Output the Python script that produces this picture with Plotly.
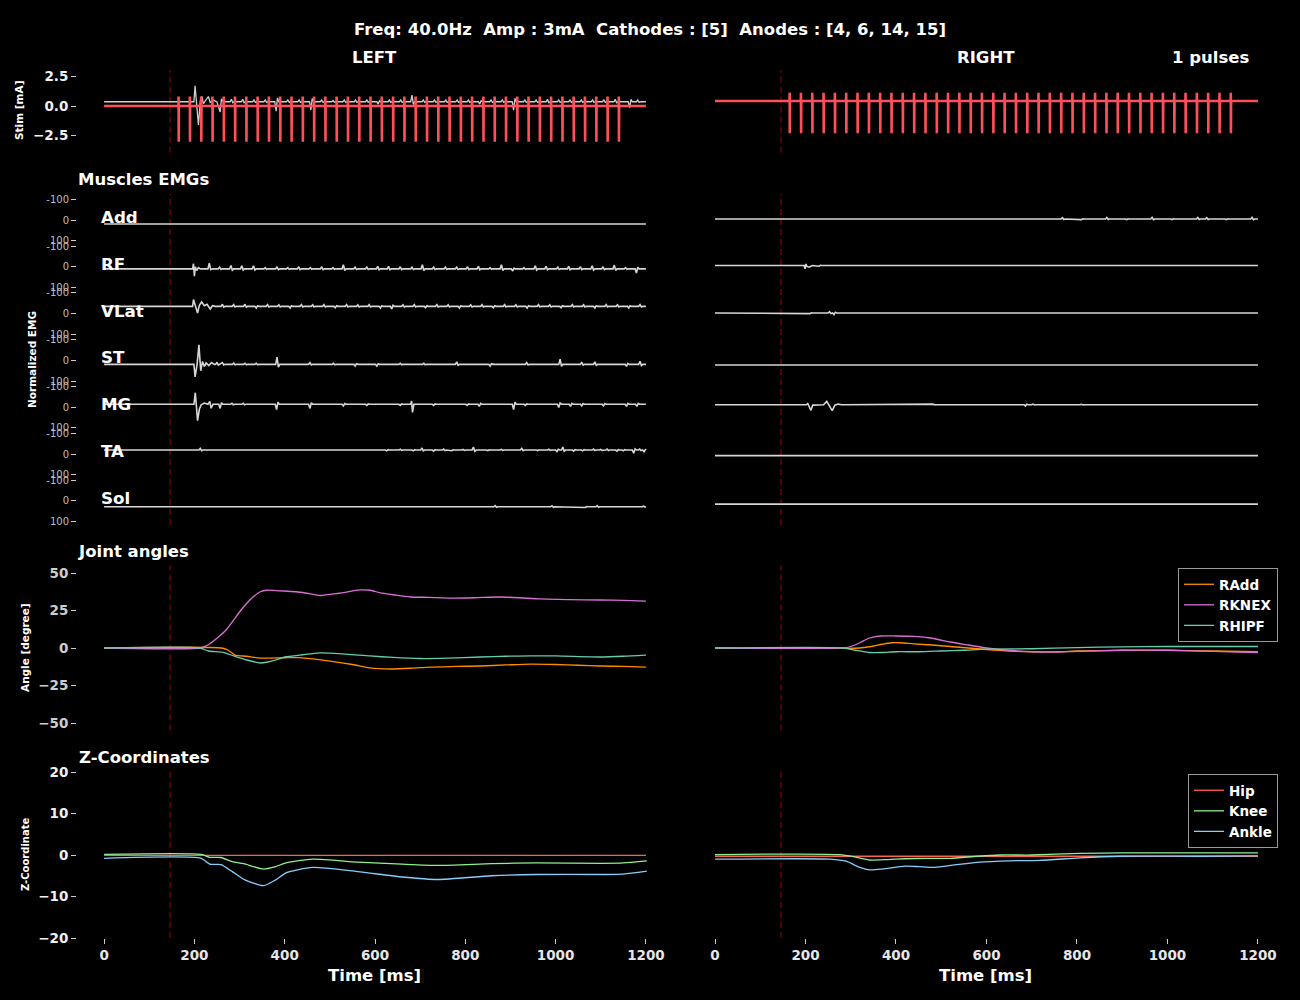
import plotly.graph_objects as go

FONT = "DejaVu Sans"
W, H = 1300, 1000

# ---------------- text ----------------
TITLE = "Freq: 40.0Hz \u00a0Amp : 3mA \u00a0Cathodes : [5] \u00a0Anodes : [4, 6, 14, 15]"
SIDE_TITLES = ["LEFT", "RIGHT"]
PULSE_COUNT_TEXT = "1 pulses"
MUSCLES = ["Add", "RF", "VLat", "ST", "MG", "TA", "Sol"]
TIME_TICKS = [0, 200, 400, 600, 800, 1000, 1200]
STIM_TICKS = [2.5, 0.0, -2.5]
STIM_TICKTEXT = ["2.5", "0.0", "\u22122.5"]
EMG_TICKS = [-100, 0, 100]
EMG_TICKTEXT = ["-100", "0", "100"]
ANG_TICKS = [50, 25, 0, -25, -50]
ANG_TICKTEXT = ["50", "25", "0", "\u221225", "\u221250"]
Z_TICKS = [20, 10, 0, -10, -20]
Z_TICKTEXT = ["20", "10", "0", "\u221210", "\u221220"]
ONSET_MS = 146

# ---------------- stimulation ----------------
PULSE_T = [165, 190, 215, 240, 265, 290, 315, 340, 365, 390, 415, 440, 465, 490,
           515, 540, 565, 590, 615, 640, 665, 690, 715, 740, 765, 790, 815, 840,
           865, 890, 915, 940, 965, 990, 1015, 1040, 1065, 1090, 1115, 1140]
STIM_L_LEVELS = [0.0, 0.8, -3.0]      # base, top, bottom
STIM_R_LEVELS = [0.42, 1.12, -2.3]
STIM_L_TRACE_BASE = 0.36
STIM_L_TRACE_KNOTS = [(199, 0.36), (201.5, 1.7), (205, 0.2), (209, -1.6), (213, 0.4), (216.5, 0.8),
                      (220, 0.2), (226, 0.5), (231, 0.8), (235, 0.3), (242, 0.5), (250, 0.35),
                      (257, -0.5), (260, 0.6), (264, 0.36)]
STIM_L_TRACE_SPIKES = [(282, 0.2), (307, 0.2), (332, 0.15), (357, 0.15), (381, -0.8), (407, 0.15),
                       (432, 0.15), (458, -0.7), (482, 0.15), (507, 0.1), (532, 0.15), (557, 0.15),
                       (582, 0.15), (607, -0.2), (632, 0.15), (657, 0.15), (682, 0.55), (707, 0.15),
                       (732, 0.15), (757, 0.15), (782, 0.15), (807, 0.15), (832, -0.2), (857, 0.15),
                       (882, 0.15), (907, -0.7), (932, 0.15), (957, 0.15), (982, 0.2), (1007, 0.15),
                       (1032, 0.15), (1057, 0.15), (1082, 0.15), (1107, 0.15), (1132, 0.2),
                       (1164, -0.5), (1182, 0.15)]

# ---------------- EMG (normalized units, axis reversed) ----------------
L_ADD_BASE, L_ADD_KNOTS, L_ADD_SPIKES = 19, [], []
L_RF_BASE = 10
L_RF_KNOTS = [(196, 10), (198, -15), (200, 45), (202, 0), (205, 18), (209, 4), (213, 10),
              (230, 10), (233, -18), (236, 14), (240, 10)]
L_RF_SPIKES = [(256, -8), (281, -16), (305, -15), (331, -15), (357, -6), (383, -10), (407, -6),
               (431, -10), (457, -6), (482, -10), (507, -6), (530, -20), (556, -8), (582, -8),
               (606, -12), (630, -12), (656, -10), (682, -8), (705, -20), (730, -8), (756, -8),
               (781, -8), (805, -10), (829, -12), (855, -6), (880, -20), (905, 10), (930, -6),
               (955, -15), (979, -12), (1005, -8), (1029, -12), (1055, -10), (1081, -15),
               (1105, -10), (1130, -18), (1155, -6), (1179, 20)]
L_VLAT_BASE = -35
L_VLAT_KNOTS = [(196, -35), (198, -68), (202, -40), (207, -3), (211, -40), (216, -56), (222, -38),
                (228, -45), (235, -22), (240, -38), (246, -35)]
L_VLAT_SPIKES = [(262, -10), (287, -8), (312, -10), (337, 8), (362, -8), (387, -7), (412, 8),
                 (437, -8), (462, -7), (487, -8), (512, 7), (537, -8), (562, -7), (587, -8),
                 (612, 8), (637, 12), (662, -7), (687, -8), (712, 7), (737, -8), (762, -7),
                 (787, 8), (812, -7), (837, -8), (862, 7), (887, -8), (912, -7), (937, 8),
                 (962, -8), (987, -7), (1012, 7), (1037, -8), (1062, -7), (1087, 8), (1112, -8),
                 (1137, -7), (1162, 8), (1187, -8)]
L_ST_BASE = 19
L_ST_KNOTS = [(199, 19), (201.5, 80), (206, 19), (210, -75), (214, 50), (218, 5), (222, 30),
              (226, 12), (232, 25), (238, 10), (244, 19)]
L_ST_SPIKES = [(250, -10), (262, -8), (287, -6), (312, -5), (337, -5), (383, -35), (456, -8),
               (508, -5), (556, 8), (604, 8), (656, -5), (708, -5), (781, -12), (855, 8),
               (936, -8), (1010, -25), (1058, -10), (1087, -12), (1157, 10), (1187, -15)]
L_MG_BASE = -14
L_MG_KNOTS = [(199, -14), (202, -70), (207, 65), (211, 10), (215, -12), (222, -20), (230, -14),
              (234, -28), (237, 5), (241, -14), (679, -14), (681, -30), (683, 25), (686, -14)]
L_MG_SPIKES = [(257, 20), (283, -5), (308, -5), (382, 25), (456, 20), (530, 8), (582, 5),
               (656, 5), (730, 5), (804, 5), (831, 10), (907, 25), (933, 5), (1007, 15),
               (1033, 10), (1058, 8), (1106, 8), (1157, 10), (1180, 10)]
L_TA_BASE = -19
L_TA_KNOTS = []
L_TA_SPIKES = [(213, -8), (626, 4), (656, -4), (685, 4), (704, -10), (730, 5), (752, -5),
               (770, 3), (795, -3), (818, -15), (850, 3), (880, -3), (925, -8), (960, 3),
               (985, -4), (1003, 8), (1016, -15), (1040, 5), (1060, 4), (1084, -5),
               (1100, -3), (1114, -5), (1136, 5), (1150, 4), (1173, 15), (1186, -5), (1196, 10)]
L_SOL_BASE = 29
L_SOL_KNOTS = []
L_SOL_SPIKES = [(866, -6), (992, -5), (1066, 3), (1092, -6), (1195, -3)]

R_ADD_BASE = -5
R_ADD_KNOTS = []
R_ADD_SPIKES = [(768, -6), (810, 3), (866, -7), (910, 3), (966, -8), (1010, 3),
                (1067, -7), (1087, -6), (1130, 3), (1187, -8)]
R_RF_BASE = -6
R_RF_KNOTS = [(197, -6), (199, 10), (201, -14), (203, -2), (208, 2), (215, -6)]
R_RF_SPIKES = [(230, 3)]
R_VLAT_BASE = -3
R_VLAT_KNOTS = []
R_VLAT_SPIKES = [(210, 3), (253, -6), (263, 8), (330, 2)]
R_ST_BASE, R_ST_KNOTS, R_ST_SPIKES = 22, [], []
R_MG_BASE = -12
R_MG_KNOTS = [(202, -12), (205, -18), (212, 15), (216, -10), (240, -12), (247, -28), (252, -10),
              (259, 17), (265, -10), (272, -15), (280, -12)]
R_MG_SPIKES = [(482, -3), (686, 6), (703, -3), (810, -2)]
R_TA_BASE, R_TA_KNOTS, R_TA_SPIKES = 8, [], []
R_SOL_BASE, R_SOL_KNOTS, R_SOL_SPIKES = 16, [], []

# ---------------- joint angles (degree) ----------------
L_RADD_T = [0, 260, 275, 290, 316, 346, 400, 434, 500, 550, 589, 634, 680, 722, 780, 833, 890,
            944, 1000, 1050, 1099, 1150, 1200]
L_RADD_V = [0, 0, -1.5, -4.7, -5.5, -6.7, -6.5, -6.4, -8.7, -11, -13.3, -14, -13.5, -12.7,
            -12.3, -12, -11.3, -10.7, -11, -11.5, -12, -12.3, -12.7]
L_RKNEX_T = [0, 212, 230, 250, 270, 287, 300, 316, 330, 346, 360, 380, 400, 440, 478, 520, 567,
             590, 612, 640, 678, 720, 767, 820, 877, 920, 966, 1030, 1099, 1150, 1200]
L_RKNEX_V = [0, 0, 2, 6.5, 12, 18.7, 24, 29.8, 34, 37.5, 38.5, 38.3, 38, 37, 35, 36.5, 38.7,
             38.5, 36.7, 35.5, 34, 33.8, 33.3, 33.5, 34, 33.5, 32.7, 32.3, 32, 31.8, 31.3]
L_RHIPF_T = [0, 212, 231, 264, 287, 316, 346, 360, 380, 400, 440, 478, 520, 589, 640, 700, 760,
             833, 890, 944, 1000, 1099, 1150, 1200]
L_RHIPF_V = [0, 0, -2, -2.9, -5.3, -8, -10, -9.5, -8, -6, -4.5, -3.3, -3.7, -5.3, -6.3, -7,
             -6.8, -6, -5.5, -5.3, -5.3, -6, -5.5, -4.7]
R_RADD_T = [0, 320, 345, 370, 390, 410, 440, 480, 520, 560, 600, 650, 700, 760, 800, 900, 1000,
            1100, 1200]
R_RADD_V = [0, 0, 1, 2.5, 3.5, 3.5, 2.7, 2, 1, 0, -1, -2, -2.5, -2.5, -2, -1.5, -1.5, -2, -2.5]
R_RKNEX_T = [0, 280, 300, 320, 340, 365, 400, 440, 480, 520, 560, 600, 650, 700, 740, 800, 900,
             1000, 1100, 1200]
R_RKNEX_V = [0, 0, 1, 3.5, 6.5, 8, 8, 7.7, 6.5, 4, 2, 0, -1.5, -2.5, -2.8, -2.3, -1.5, -1.5,
             -2.3, -3]
R_RHIPF_T = [0, 285, 310, 340, 370, 400, 450, 500, 550, 600, 700, 800, 900, 1000, 1100, 1200]
R_RHIPF_V = [0, 0, -1.5, -3, -3, -2.5, -2.5, -2, -1.5, -0.7, -0.5, 0.3, 0.8, 1, 1, 1]

# ---------------- Z coordinates ----------------
L_HIP_T, L_HIP_V = [0, 1200], [-0.1, -0.1]
L_KNEE_T = [0, 215, 234, 259, 284, 309, 353, 380, 403, 462, 561, 660, 739, 858, 957, 1105, 1150, 1202]
L_KNEE_V = [0.17, 0.17, -0.55, -0.6, -1.6, -2.1, -3.4, -2.8, -1.9, -1, -1.7, -2.2, -2.5, -2.1,
            -1.9, -2, -1.9, -1.4]
L_ANKLE_T = [0, 215, 234, 259, 284, 312, 353, 380, 403, 462, 561, 660, 739, 858, 957, 1105, 1150, 1202]
L_ANKLE_V = [-0.8, -0.8, -2.2, -2.3, -4, -6, -7.4, -6, -4.3, -3, -4, -5.3, -5.9, -5, -4.7, -4.7,
             -4.6, -3.9]
R_HIP_T, R_HIP_V = [0, 1200], [-0.3, -0.3]
R_KNEE_T = [0, 276, 310, 342, 380, 420, 470, 520, 580, 630, 700, 806, 900, 1000, 1200]
R_KNEE_V = [0.1, 0.1, -0.5, -1.2, -1.1, -0.9, -0.8, -0.8, -0.3, 0, 0, 0.4, 0.5, 0.5, 0.5]
R_ANKLE_T = [0, 254, 290, 320, 342, 370, 420, 450, 486, 530, 585, 652, 718, 806, 895, 1072, 1200]
R_ANKLE_V = [-1, -1, -1.5, -3, -3.6, -3.4, -2.7, -2.8, -3, -2.4, -1.7, -1.4, -1.3, -0.7, -0.3,
             -0.3, -0.2]

# ---------------- styles ----------------
BG = "black"
EMG_COLOR = "#d6d6d6"
STIM_COLOR = "#ff4f5a"
ONSET_COLOR = "rgba(139,0,0,0.85)"
ANGLE_COLORS = {"RAdd": "#ff8c00", "RKNEX": "#da70d6", "RHIPF": "#66cdaa"}
Z_COLORS = {"Hip": "#ff6347", "Knee": "#90ee90", "Ankle": "#87cefa"}


def spiky(base, knots, spikes):
    pts = [(0.0, base)] + list(knots)
    for t, a in spikes:
        pts += [(t - 3, base), (t, base + a), (t + 3, base - 0.4 * a), (t + 6, base)]
    pts = [p for p in pts if p[0] <= 1200]
    pts.sort(key=lambda p: p[0])
    if pts[-1][0] < 1200:
        pts.append((1200.0, base))
    return [p[0] for p in pts], [p[1] for p in pts]


def pulse_train(levels, times):
    base, top, bottom = levels
    xs, ys = [0.0], [base]
    for t in times:
        xs += [t - 0.3, t, t + 0.3, t + 0.6]
        ys += [base, top, bottom, base]
    xs.append(1200.0)
    ys.append(base)
    return xs, ys


# ---------------- layout geometry (pixels) ----------------
COL_X = [(77.0, 673.0), (687.85, 1285.1)]
X_RANGE = [-60, 1260]
ROWS = [("stim", 70.0, 152.7, [-3.93, 3.03])]
for i in range(7):
    c = 220.0 + 46.8 * i
    ROWS.append(("emg%d" % i, c - 23.4, c + 23.4, [113, -113]))
ROWS.append(("ang", 565.5, 730.5, [-55, 55]))
ROWS.append(("z", 772.0, 938.0, [-20, 20]))


def axid(row, col):
    return row * 2 + col + 1


def xname(n):
    return "x" if n == 1 else "x%d" % n


def yname(n):
    return "y" if n == 1 else "y%d" % n


fig = go.Figure()
layout = {}
for r, (name, top, bot, yr) in enumerate(ROWS):
    for c in range(2):
        n = axid(r, c)
        sfx = "" if n == 1 else str(n)
        bottom_row = name == "z"
        layout["xaxis" + sfx] = dict(
            domain=[COL_X[c][0] / W, COL_X[c][1] / W], range=X_RANGE, anchor=yname(n),
            showgrid=False, zeroline=False, showline=False, automargin=False,
            showticklabels=bottom_row, ticks="outside" if bottom_row else "",
            tickvals=TIME_TICKS, ticklen=5, tickwidth=1, tickcolor="#cccccc",
            tickfont=dict(family=FONT, size=13.5, color="#e6e6e6", weight="bold"),
            fixedrange=True)
        ya = dict(domain=[1 - bot / H, 1 - top / H], range=yr, anchor=xname(n),
                  showgrid=False, zeroline=False, showline=False, fixedrange=True,
                  automargin=False)
        if c == 0:
            if name == "stim":
                tv, tt, tf = STIM_TICKS, STIM_TICKTEXT, dict(family=FONT, size=13.5, color="#f0f0f0", weight="bold")
            elif name.startswith("emg"):
                tv, tt, tf = EMG_TICKS, EMG_TICKTEXT, dict(family=FONT, size=10, color="#bdbdbd")
            elif name == "ang":
                tv, tt, tf = ANG_TICKS, ANG_TICKTEXT, dict(family=FONT, size=13.5, color="#cdcdcd", weight="bold")
            else:
                tv, tt, tf = Z_TICKS, Z_TICKTEXT, dict(family=FONT, size=13.5, color="#f0f0f0", weight="bold")
            ya.update(tickmode="array", tickvals=tv, ticktext=tt, tickfont=tf, ticks="outside",
                      ticklen=5, tickwidth=1, tickcolor="#cccccc", showticklabels=True)
        else:
            ya.update(showticklabels=False, ticks="")
        layout["yaxis" + sfx] = ya

# ---------------- traces ----------------
n = axid(0, 0)
sx, sy = spiky(STIM_L_TRACE_BASE, STIM_L_TRACE_KNOTS, STIM_L_TRACE_SPIKES)
fig.add_trace(go.Scatter(x=sx, y=sy, mode="lines", line=dict(color="#cfcfcf", width=1.3),
                         xaxis=xname(n), yaxis=yname(n), showlegend=False, hoverinfo="skip"))
px_, py_ = pulse_train(STIM_L_LEVELS, PULSE_T)
fig.add_trace(go.Scatter(x=px_, y=py_, mode="lines", line=dict(color=STIM_COLOR, width=2.6),
                         xaxis=xname(n), yaxis=yname(n), showlegend=False, hoverinfo="skip"))
n = axid(0, 1)
px_, py_ = pulse_train(STIM_R_LEVELS, PULSE_T)
fig.add_trace(go.Scatter(x=px_, y=py_, mode="lines", line=dict(color=STIM_COLOR, width=2.6),
                         xaxis=xname(n), yaxis=yname(n), showlegend=False, hoverinfo="skip"))

EMG_LEFT = [(L_ADD_BASE, L_ADD_KNOTS, L_ADD_SPIKES), (L_RF_BASE, L_RF_KNOTS, L_RF_SPIKES),
            (L_VLAT_BASE, L_VLAT_KNOTS, L_VLAT_SPIKES), (L_ST_BASE, L_ST_KNOTS, L_ST_SPIKES),
            (L_MG_BASE, L_MG_KNOTS, L_MG_SPIKES), (L_TA_BASE, L_TA_KNOTS, L_TA_SPIKES),
            (L_SOL_BASE, L_SOL_KNOTS, L_SOL_SPIKES)]
EMG_RIGHT = [(R_ADD_BASE, R_ADD_KNOTS, R_ADD_SPIKES), (R_RF_BASE, R_RF_KNOTS, R_RF_SPIKES),
             (R_VLAT_BASE, R_VLAT_KNOTS, R_VLAT_SPIKES), (R_ST_BASE, R_ST_KNOTS, R_ST_SPIKES),
             (R_MG_BASE, R_MG_KNOTS, R_MG_SPIKES), (R_TA_BASE, R_TA_KNOTS, R_TA_SPIKES),
             (R_SOL_BASE, R_SOL_KNOTS, R_SOL_SPIKES)]

annotations = []
for c, group in enumerate([EMG_LEFT, EMG_RIGHT]):
    for i, (base, knots, spikes) in enumerate(group):
        n = axid(1 + i, c)
        ex, ey = spiky(base, knots, spikes)
        fig.add_trace(go.Scatter(x=ex, y=ey, mode="lines", line=dict(color=EMG_COLOR, width=1.6),
                                 xaxis=xname(n), yaxis=yname(n), showlegend=False, hoverinfo="skip"))
        if c == 0:
            annotations.append(dict(x=-10.4, y=0, xref=xname(n), yref=yname(n), text=MUSCLES[i],
                                    showarrow=False, xanchor="left", yanchor="middle", yshift=3,
                                    font=dict(family=FONT, size=16.7, color="white", weight="bold")))

ANG = [("RAdd", L_RADD_T, L_RADD_V, R_RADD_T, R_RADD_V),
       ("RKNEX", L_RKNEX_T, L_RKNEX_V, R_RKNEX_T, R_RKNEX_V),
       ("RHIPF", L_RHIPF_T, L_RHIPF_V, R_RHIPF_T, R_RHIPF_V)]
for nm, lt, lv, rt, rv in ANG:
    n = axid(8, 0)
    fig.add_trace(go.Scatter(x=lt, y=lv, mode="lines", line=dict(color=ANGLE_COLORS[nm], width=1.3, shape="spline", smoothing=0.6),
                             xaxis=xname(n), yaxis=yname(n), showlegend=False, hoverinfo="skip"))
    n = axid(8, 1)
    fig.add_trace(go.Scatter(x=rt, y=rv, mode="lines", name=nm, legend="legend",
                             line=dict(color=ANGLE_COLORS[nm], width=1.3, shape="spline", smoothing=0.6),
                             xaxis=xname(n), yaxis=yname(n), hoverinfo="skip"))

ZC = [("Hip", L_HIP_T, L_HIP_V, R_HIP_T, R_HIP_V),
      ("Knee", L_KNEE_T, L_KNEE_V, R_KNEE_T, R_KNEE_V),
      ("Ankle", L_ANKLE_T, L_ANKLE_V, R_ANKLE_T, R_ANKLE_V)]
for nm, lt, lv, rt, rv in ZC:
    n = axid(9, 0)
    fig.add_trace(go.Scatter(x=lt, y=lv, mode="lines", line=dict(color=Z_COLORS[nm], width=1.3, shape="spline", smoothing=0.6),
                             xaxis=xname(n), yaxis=yname(n), showlegend=False, hoverinfo="skip"))
    n = axid(9, 1)
    fig.add_trace(go.Scatter(x=rt, y=rv, mode="lines", name=nm, legend="legend2",
                             line=dict(color=Z_COLORS[nm], width=1.3, shape="spline", smoothing=0.6),
                             xaxis=xname(n), yaxis=yname(n), hoverinfo="skip"))

# ---------------- onset dashed lines ----------------
shapes = []
SECTIONS = [(0, 70.0, 152.7), (1, 194.0, 525.0), (8, 565.5, 730.5), (9, 772.0, 938.0)]
for r, t0, t1 in SECTIONS:
    for c in range(2):
        n = axid(r, c)
        shapes.append(dict(type="line", xref=xname(n), yref="paper", x0=ONSET_MS, x1=ONSET_MS,
                           y0=1 - t1 / H, y1=1 - t0 / H, layer="below",
                           line=dict(color=ONSET_COLOR, width=1.4, dash="6px,4px")))


def txt(text, x, y, size, xanchor="center", angle=0, color="white"):
    annotations.append(dict(x=x / W, y=1 - y / H, xref="paper", yref="paper", text=text,
                            showarrow=False, xanchor=xanchor, yanchor="middle", textangle=angle,
                            font=dict(family=FONT, size=size, color=color, weight="bold")))


txt(TITLE, 650, 29, 16.5)
txt(SIDE_TITLES[0], 374, 57, 16.5)
txt(SIDE_TITLES[1], 986, 57, 16.5)
txt(PULSE_COUNT_TEXT, 1251, 57, 16.5, xanchor="right")
txt("Muscles EMGs", 76, 179, 16.5, xanchor="left")
txt("Joint angles", 76, 551, 16.5, xanchor="left")
txt("Z-Coordinates", 77, 757, 16.5, xanchor="left")
txt("Stim [mA]", 19, 111, 10.5, angle=-90)
txt("Normalized EMG", 32, 360, 10.5, angle=-90)
txt("Angle [degree]", 25, 648, 10.5, angle=-90)
txt("Z-Coordinate", 25, 855, 10, angle=-90)
txt("Time [ms]", 375, 975, 16.5)
txt("Time [ms]", 986, 975, 16.5)

LEG = dict(xanchor="right", yanchor="top", bgcolor="rgba(0,0,0,0.85)", bordercolor="#9a9a9a",
           borderwidth=1, font=dict(family=FONT, size=13.5, color="white", weight="bold"),
           itemwidth=30, tracegroupgap=0)
fig.update_layout(
    width=W, height=H, autosize=False,
    margin=dict(l=0, r=0, t=0, b=0, pad=0, autoexpand=False),
    paper_bgcolor=BG, plot_bgcolor=BG, font=dict(family=FONT, color="white"),
    shapes=shapes, annotations=annotations, hovermode=False,
    legend=dict(x=1278 / W, y=1 - 568 / H, **LEG),
    legend2=dict(x=1278 / W, y=1 - 774 / H, **LEG),
    **layout)

fig.write_html("out.html", config={"displayModeBar": False},
               post_script="document.documentElement.style.margin='0';document.body.style.margin='0';"
                           "document.body.style.padding='0';document.body.style.background='black';"
                           "document.documentElement.style.background='black';")
